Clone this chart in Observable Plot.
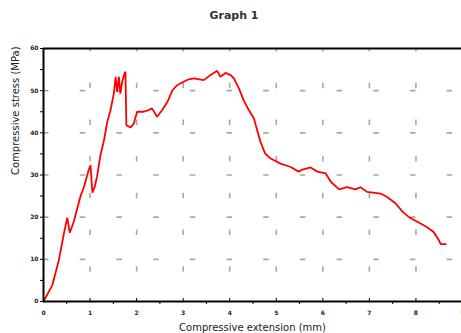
<!DOCTYPE html>
<html>
<head>
<meta charset="utf-8">
<script src="https://cdn.jsdelivr.net/npm/d3@7"></script>
<script src="https://cdn.jsdelivr.net/npm/@observablehq/plot@0.6"></script>
<style>
  html, body { margin: 0; padding: 0; background: #fff; }
  #wrap { position: relative; width: 461px; height: 333px; overflow: hidden; }
  #title {
    position: absolute; top: 9px; left: 0; width: 468px; text-align: center;
    font-family: "DejaVu Sans", sans-serif; font-size: 11px; font-weight: bold; color: #333;
  }
  svg { display: block; }
</style>
</head>
<body>
<div id="wrap">
  <div id="title">Graph 1</div>
</div>
<script>
// Compressive extension (mm) and stress (MPa) for the test specimen
const extension = [
  0, 0.19, 0.33, 0.44, 0.51, 0.565, 0.65, 0.79, 0.87, 0.97, 1.01, 1.05, 1.1, 1.15,
  1.22, 1.30, 1.37, 1.44, 1.51, 1.55, 1.58, 1.62, 1.65, 1.69, 1.74, 1.76, 1.78, 1.87,
  1.94, 2.01, 2.15, 2.26, 2.33, 2.44, 2.55, 2.66, 2.77, 2.87, 3.01, 3.12, 3.23, 3.44,
  3.59, 3.73, 3.80, 3.91, 4.02, 4.09, 4.20, 4.30, 4.41, 4.52, 4.59, 4.66, 4.76, 4.88,
  5.09, 5.31, 5.48, 5.56, 5.74, 5.88, 6.06, 6.17, 6.35, 6.52, 6.70, 6.81, 6.95, 7.24,
  7.38, 7.56, 7.71, 7.85, 8.03, 8.24, 8.38, 8.49, 8.53, 8.64
];
const stress = [
  0, 3.9, 9.8, 16.2, 19.9, 16.3, 18.9, 24.8, 27.2, 31.2, 32.3, 25.8, 27.2, 29.6,
  34.5, 38.3, 42.6, 45.4, 49.3, 53.3, 49.7, 53.3, 49.3, 52.1, 54.1, 54.5, 41.8, 41.3,
  42.2, 45.0, 45.0, 45.4, 45.8, 43.8, 45.4, 47.3, 50.1, 51.3, 52.1, 52.7, 52.9, 52.5,
  53.7, 54.7, 53.3, 54.2, 53.7, 52.9, 50.5, 47.7, 45.4, 43.4, 40.6, 37.9, 35.1, 33.9,
  32.7, 31.9, 30.8, 31.3, 31.8, 30.8, 30.4, 28.4, 26.6, 27.1, 26.6, 27.1, 26.0, 25.6,
  24.8, 23.3, 21.3, 20.0, 18.9, 17.6, 16.5, 14.6, 13.6, 13.6
];

const xTicks = [0, 1, 2, 3, 4, 5, 6, 7, 8, 9];
const yTicks = [0, 10, 20, 30, 40, 50, 60];
const xTitle = "Compressive extension (mm)";
const yTitle = "Compressive stress (MPa)";

const points = extension.map((e, i) => ({e, s: stress[i]}));
const halfTicks = d3.range(0.5, 9, 1);
const minorY = d3.range(5, 60, 10);

const gridStyle = {stroke: "#aca994", strokeOpacity: 1, strokeWidth: 1.6, strokeDasharray: "5.5,31.2"};
const font = "DejaVu Sans, sans-serif";

const chart = Plot.plot({
  width: 461,
  height: 333,
  marginLeft: 43,
  marginTop: 48,
  marginBottom: 32,
  marginRight: 0,
  style: {fontFamily: font, background: "#fff"},
  x: {domain: [0, 9], range: [43, 462]},
  y: {domain: [0, 60], range: [301, 48]},
  marks: [
    Plot.gridX(xTicks.slice(1, -1), {...gridStyle, strokeDashoffset: 2}),
    Plot.gridY(yTicks.slice(1, -1), gridStyle),
    Plot.line(points, {x: "e", y: "s", stroke: "#ff0000", strokeWidth: 1.8, strokeLinejoin: "miter"}),
    Plot.ruleX([0], {stroke: "#000", strokeWidth: 2}),
    Plot.ruleY([0, 60], {stroke: "#000", strokeWidth: 2}),
    Plot.axisY(yTicks, {tickSize: 3, tickPadding: 2, stroke: "#000", fontSize: 6, fontWeight: "bold", fill: "#222", label: null}),
    Plot.axisY(minorY, {tickSize: 3, text: null, stroke: "#000", label: null}),
    Plot.axisX(xTicks, {tickSize: -3, tickPadding: 12, stroke: "#000", fontSize: 6, fontWeight: "bold", fill: "#222", label: null}),
    Plot.axisX(halfTicks, {tickSize: 3, text: null, stroke: "#000", label: null}),
    Plot.text([xTitle], {frameAnchor: "bottom", dy: 26, text: d => d, fontSize: 10, fill: "#222", lineAnchor: "middle"}),
    Plot.text([yTitle], {frameAnchor: "left", dx: -27.5, rotate: -90, text: d => d, fontSize: 10, fill: "#222", lineAnchor: "middle"})
  ]
});

document.getElementById("wrap").prepend(chart);
</script>
</body>
</html>
